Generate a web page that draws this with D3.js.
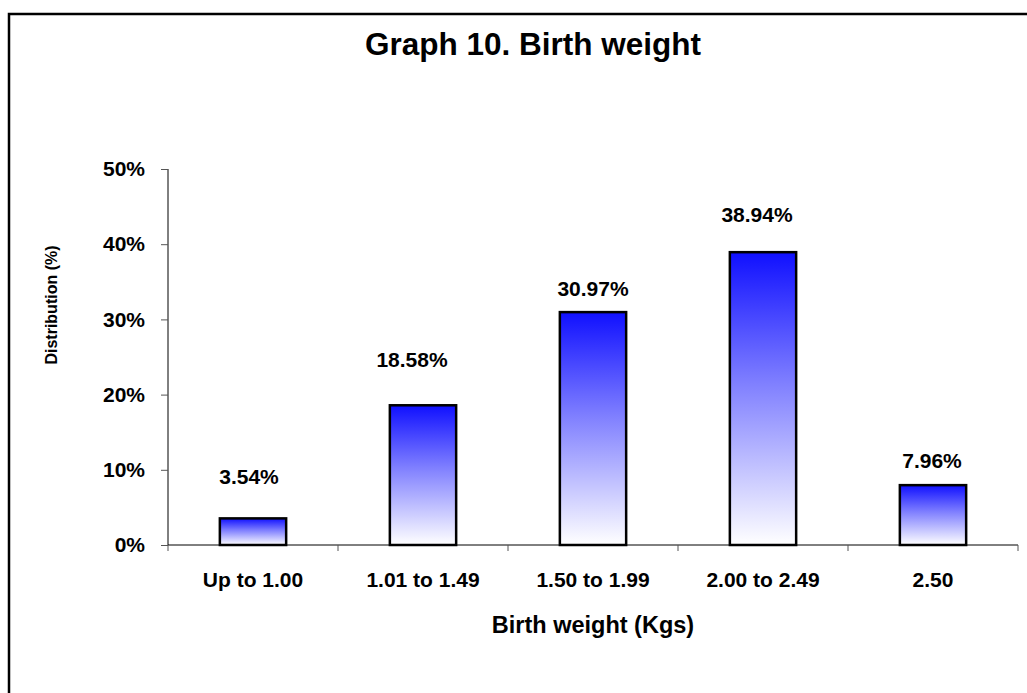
<!DOCTYPE html>
<html>
<head>
<meta charset="utf-8">
<script src="https://cdn.jsdelivr.net/npm/d3@7"></script>
<style>
  html, body { margin: 0; padding: 0; background: #fff; }
  svg { display: block; font-family: "Liberation Sans", Arial, sans-serif; font-weight: bold; }
</style>
</head>
<body>
<svg id="chart" width="1027" height="693"></svg>
<script>
// Birth weight distribution
const categories = ["Up to 1.00", "1.01 to 1.49", "1.50 to 1.99", "2.00 to 2.49", "2.50"];
const shares = [3.54, 18.58, 30.97, 38.94, 7.96];
const yTicks = [0, 10, 20, 30, 40, 50];

// label placement nudges (px): horizontal shift and lift above bar top
const labelDx = [-4, -11, 0, -6, -1];
const labelLift = [34, 38, 16, 30, 17];

const svg = d3.select("#chart");
const plot = { left: 168, right: 1018, top: 169, bottom: 545 };

// chart frame
svg.append("rect")
  .attr("x", 9).attr("y", 14)
  .attr("width", 1100).attr("height", 800)
  .attr("fill", "#fff").attr("stroke", "#000").attr("stroke-width", 2.5);

// vertical gradient for the bars: blue on top fading to white
const grad = svg.append("defs").append("linearGradient")
  .attr("id", "barFill").attr("x1", 0).attr("y1", 0).attr("x2", 0).attr("y2", 1);
grad.append("stop").attr("offset", "0%").attr("stop-color", "#1010ff");
grad.append("stop").attr("offset", "45%").attr("stop-color", "#8080ff");
grad.append("stop").attr("offset", "100%").attr("stop-color", "#ffffff");

const x = d3.scaleBand().domain(categories).range([plot.left, plot.right]).paddingInner(0.61).paddingOuter(0.305);
const y = d3.scaleLinear().domain([0, 50]).range([plot.bottom, plot.top]);

// title
svg.append("text")
  .attr("x", 533).attr("y", 55)
  .attr("text-anchor", "middle")
  .attr("font-size", 31.5)
  .text("Graph 10. Birth weight");

// y axis
const yAxis = d3.axisLeft(y).tickValues(yTicks).tickSize(7).tickPadding(16)
  .tickFormat(d => d + "%");
const gy = svg.append("g").attr("transform", `translate(${plot.left},0)`).call(yAxis);
gy.select(".domain").attr("stroke", "#000").attr("d", `M0,${plot.top}V${plot.bottom}`);
gy.selectAll(".tick line").attr("stroke", "#555");
gy.selectAll(".tick text").attr("font-size", 21).attr("font-family", null).attr("fill", "#000");

// x axis line with ticks at band boundaries
const gx = svg.append("g");
gx.append("line")
  .attr("x1", plot.left).attr("x2", plot.right)
  .attr("y1", plot.bottom).attr("y2", plot.bottom)
  .attr("stroke", "#000");
const edges = categories.map(c => x(c) - x.step() * x.paddingInner() / 2).concat([plot.right]);
gx.selectAll("line.edge").data(edges).join("line")
  .attr("class", "edge")
  .attr("x1", d => d).attr("x2", d => d)
  .attr("y1", plot.bottom).attr("y2", plot.bottom + 6)
  .attr("stroke", "#555");
gx.selectAll("text.cat").data(categories).join("text")
  .attr("class", "cat")
  .attr("x", d => x(d) + x.bandwidth() / 2)
  .attr("y", 587)
  .attr("text-anchor", "middle")
  .attr("font-size", 21)
  .text(d => d);

// bars
svg.selectAll("rect.bar").data(shares).join("rect")
  .attr("class", "bar")
  .attr("x", (d, i) => x(categories[i]))
  .attr("y", d => y(d))
  .attr("width", x.bandwidth())
  .attr("height", d => y(0) - y(d))
  .attr("fill", "url(#barFill)")
  .attr("stroke", "#000").attr("stroke-width", 2.5);

// value labels
svg.selectAll("text.val").data(shares).join("text")
  .attr("class", "val")
  .attr("x", (d, i) => x(categories[i]) + x.bandwidth() / 2 + labelDx[i])
  .attr("y", (d, i) => y(d) - labelLift[i])
  .attr("text-anchor", "middle")
  .attr("font-size", 21)
  .text(d => d.toFixed(2) + "%");

// axis titles
svg.append("text")
  .attr("x", 593).attr("y", 633)
  .attr("text-anchor", "middle")
  .attr("font-size", 23.5)
  .text("Birth weight (Kgs)");
svg.append("text")
  .attr("transform", "translate(57,305) rotate(-90)")
  .attr("text-anchor", "middle")
  .attr("font-size", 16)
  .text("Distribution (%)");
</script>
</body>
</html>
